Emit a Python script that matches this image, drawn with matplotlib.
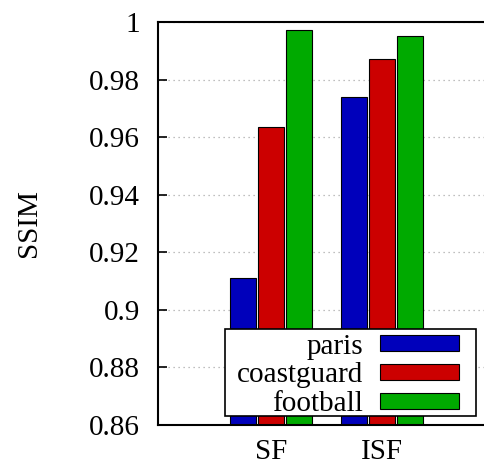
import matplotlib.pyplot as plt
import matplotlib.patches as mpatches
import numpy as np

plt.rcParams['font.family'] = ['Liberation Serif', 'DejaVu Serif']

# data
methods = ["SF", "ISF"]
paris = [0.9111, 0.974]
coastguard = [0.9635, 0.9871]
football = [0.9973, 0.995]
series = ["paris", "coastguard", "football"]
colors = ["#0000bb", "#cc0000", "#00aa00"]
yticks = [0.86, 0.88, 0.9, 0.92, 0.94, 0.96, 0.98, 1]
ytick_labels = ["0.86", "0.88", "0.9", "0.92", "0.94", "0.96", "0.98", "1"]

fig = plt.figure(figsize=(4.85, 4.67), dpi=100)
ax = fig.add_axes([158 / 485, 42 / 467, 335 / 485, 403 / 467])

x = np.arange(len(methods))
width = 0.234
pitch = 0.252
for i, (vals, name, c) in enumerate(zip([paris, coastguard, football], series, colors)):
    ax.bar(x + (i - 1) * pitch, vals, width, color=c, edgecolor="black",
           linewidth=0.8, label=name, zorder=2)

ax.set_ylim(0.86, 1.0)
ax.set_xlim(-1.02, 2.0)
ax.set_yticks(yticks)
ax.set_yticklabels(ytick_labels)
ax.set_xticks(x)
ax.set_xticklabels(methods)
ax.tick_params(axis="y", direction="in", length=6.5, width=1.2, right=True,
               labelsize=21, pad=13)
ax.tick_params(axis="x", length=0, labelsize=21, pad=10)
ax.yaxis.grid(True, linestyle=(0, (1, 3)), color="#aaaaaa", linewidth=0.9, zorder=0)
ax.set_axisbelow(True)
for s in ax.spines.values():
    s.set_linewidth(1.5)
ax.spines["right"].set_visible(False)
ax.set_ylabel("SSIM", fontsize=21, labelpad=34)

# legend box drawn by hand, gnuplot style
box = mpatches.Rectangle((0.2, 0.022), 0.749, 0.216, transform=ax.transAxes,
                         facecolor="white", edgecolor="black", linewidth=1.2,
                         zorder=4.5)
ax.add_patch(box)
leg = ax.legend(loc="lower right", bbox_to_anchor=(0.8985, 0.019),
                markerfirst=False, frameon=False, fontsize=21,
                handlelength=2.7, handleheight=0.5, labelspacing=0.1,
                borderpad=0, handletextpad=0.6, borderaxespad=0)
leg.set_zorder(5)
leg._legend_box.align = "right"

fig.savefig("out.png", dpi=100)
